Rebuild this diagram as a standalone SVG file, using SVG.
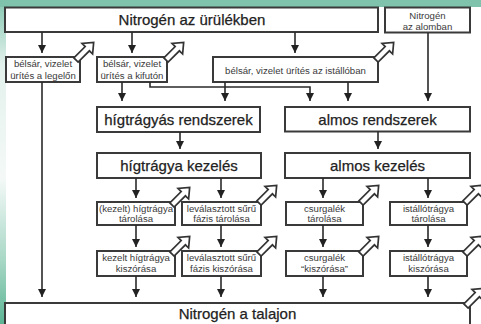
<svg xmlns="http://www.w3.org/2000/svg" width="481" height="324" viewBox="0 0 481 324">
<defs>
<linearGradient id="side" x1="0" y1="0" x2="0" y2="1">
<stop offset="0" stop-color="#86c7b2"/>
<stop offset="0.2" stop-color="#e3f1ec"/>
<stop offset="0.55" stop-color="#f4f9f7"/>
<stop offset="0.8" stop-color="#a9d8c7"/>
<stop offset="1" stop-color="#5cb594"/>
</linearGradient>
<marker id="ah" markerUnits="userSpaceOnUse" markerWidth="8" markerHeight="8" refX="8" refY="4" orient="auto">
<path d="M0,0 L8,4 L0,8 z" fill="#222"/>
</marker>
<path id="ha" d="M0,-3 L16,-3 L16,-7.5 L25,0 L16,7.5 L16,3 L0,3 Z"/>
<style>
.box{fill:#fff;stroke:#3a3a3a;stroke-width:2}
.big{font-family:"Liberation Sans",Arial,sans-serif;font-size:15px;fill:#222;stroke:#222;stroke-width:0.25;text-anchor:middle}
.sm{font-family:"Liberation Sans",Arial,sans-serif;font-size:9.6px;fill:#3a3a3a;text-anchor:middle}
.con path{fill:none;stroke:#2a2a2a;stroke-width:1.6;marker-end:url(#ah)}
.hol use{fill:#fff;stroke:#333;stroke-width:1.7;stroke-linejoin:miter}
</style>
</defs>
<rect x="0" y="0" width="481" height="324" fill="#fff"/>
<rect x="0" y="0" width="6" height="324" fill="url(#side)"/>
<rect x="0" y="0" width="481" height="7" fill="#7fc3ad"/>

<g id="n-urulek"><rect class="box" x="5" y="7.5" width="373" height="24.5"/><text class="big" x="192" y="25">Nitrogén az ürülékben</text></g>
<g id="n-alom"><rect class="box" x="385" y="7.5" width="85" height="25"/><text class="sm" x="427.5" y="18.5">Nitrogén</text><text class="sm" x="427.5" y="29.5">az alomban</text></g>
<g id="legelo"><rect class="box" x="6" y="57" width="74" height="25"/><text class="sm" x="43" y="67">bélsár, vizelet</text><text class="sm" x="43" y="79">ürítés a legelőn</text></g>
<g id="kifuto"><rect class="box" x="97" y="57" width="70" height="25"/><text class="sm" x="132" y="67">bélsár, vizelet</text><text class="sm" x="132" y="79">ürítés a kifutón</text></g>
<g id="istallo"><rect class="box" x="213" y="57" width="165" height="25"/><text class="sm" x="295.5" y="73.5">bélsár, vizelet ürítés az istállóban</text></g>
<g id="higtr-rendsz"><rect class="box" x="97" y="107" width="163" height="25"/><text class="big" x="178.5" y="125">hígtrágyás rendszerek</text></g>
<g id="almos-rendsz"><rect class="box" x="285" y="107" width="185" height="24.5"/><text class="big" x="377.5" y="125">almos rendszerek</text></g>
<g id="higtr-kez"><rect class="box" x="97" y="153" width="164" height="25"/><text class="big" x="179" y="171">hígtrágya kezelés</text></g>
<g id="almos-kez"><rect class="box" x="285" y="153" width="185" height="25"/><text class="big" x="377.5" y="171">almos kezelés</text></g>
<g id="kez-tar"><rect class="box" x="97" y="202" width="78" height="23"/><text class="sm" x="136" y="211.5">(kezelt) hígtrágya</text><text class="sm" x="136" y="222">tárolása</text></g>
<g id="lev-tar"><rect class="box" x="182" y="202" width="79" height="23"/><text class="sm" x="221.5" y="211.5">leválasztott sűrű</text><text class="sm" x="221.5" y="222">fázis tárolása</text></g>
<g id="cs-tar"><rect class="box" x="286" y="202" width="77" height="23"/><text class="sm" x="324.5" y="211.5">csurgalék</text><text class="sm" x="324.5" y="222">tárolása</text></g>
<g id="ist-tar"><rect class="box" x="390" y="202" width="77" height="23"/><text class="sm" x="428.5" y="211.5">istállótrágya</text><text class="sm" x="428.5" y="222">tárolása</text></g>
<g id="kez-kisz"><rect class="box" x="97" y="251" width="78" height="25"/><text class="sm" x="136" y="261">kezelt hígtrágya</text><text class="sm" x="136" y="272">kiszórása</text></g>
<g id="lev-kisz"><rect class="box" x="182" y="251" width="79" height="25"/><text class="sm" x="221.5" y="261">leválasztott sűrű</text><text class="sm" x="221.5" y="272">fázis kiszórása</text></g>
<g id="cs-kisz"><rect class="box" x="286" y="251" width="77" height="25"/><text class="sm" x="324.5" y="261">csurgalék</text><text class="sm" x="324.5" y="272">“kiszórása”</text></g>
<g id="ist-kisz"><rect class="box" x="390" y="251" width="77" height="25"/><text class="sm" x="428.5" y="261">istállótrágya</text><text class="sm" x="428.5" y="272">kiszórása</text></g>
<g id="talaj"><rect class="box" x="5" y="303" width="465" height="30"/><text class="big" x="237.5" y="318.5">Nitrogén a talajon</text></g>

<g id="connectors" class="con">
<path d="M42,32 V53"/>
<path d="M132,32 V53"/>
<path d="M295,32 V53"/>
<path d="M428,33 V101"/>
<path d="M122,82 V101"/>
<path d="M150,82 V87 H310 V101"/>
<path d="M225,82 V101"/>
<path d="M348,82 V101"/>
<path d="M180,132 V149"/>
<path d="M378,131.5 V149"/>
<path d="M136,178 V198"/>
<path d="M221,178 V198"/>
<path d="M323,178 V198"/>
<path d="M428,178 V198"/>
<path d="M136,225 V247"/>
<path d="M221,225 V247"/>
<path d="M323,225 V247"/>
<path d="M428,225 V247"/>
<path d="M136,276 V297"/>
<path d="M221,276 V297"/>
<path d="M323,276 V297"/>
<path d="M428,276 V297"/>
<path d="M42,82 V297"/>
</g>
<g id="losses" class="hol">
<use href="#ha" transform="translate(76,60) rotate(-45)"/>
<use href="#ha" transform="translate(166,60) rotate(-45)"/>
<use href="#ha" transform="translate(376,60) rotate(-45)"/>
<use href="#ha" transform="translate(172,205) rotate(-45)"/>
<use href="#ha" transform="translate(259,203) rotate(-45)"/>
<use href="#ha" transform="translate(172,254) rotate(-45)"/>
<use href="#ha" transform="translate(259,254) rotate(-45)"/>
<use href="#ha" transform="translate(361,203) rotate(-45)"/>
<use href="#ha" transform="translate(361,254) rotate(-45)"/>
<use href="#ha" transform="translate(465,203) rotate(-45)"/>
<use href="#ha" transform="translate(465,254) rotate(-45)"/>
<use href="#ha" transform="translate(466,306) rotate(-45)"/>
</g>
</svg>
